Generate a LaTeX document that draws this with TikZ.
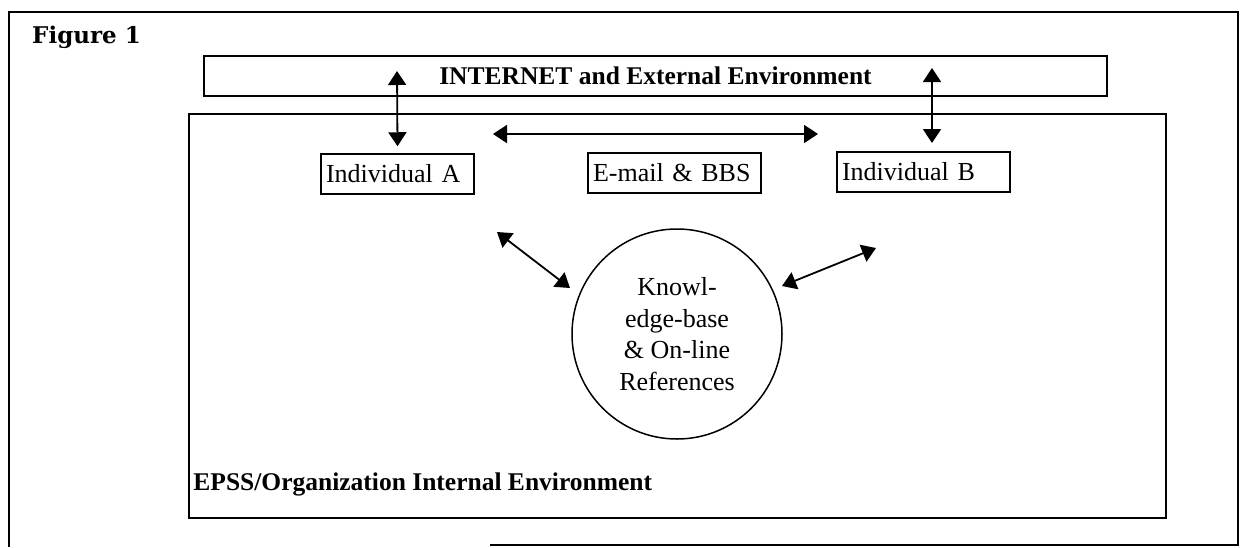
\documentclass[tikz,border=0pt]{standalone}
\usepackage{fontspec}
\setmainfont{Liberation Serif}
\newfontfamily\slabfont{DejaVu Serif}
\usetikzlibrary{positioning, arrows.meta, shapes.geometric}

\begin{document}
\begin{tikzpicture}[
    x=1pt, y=-1pt,
    box/.style={draw, rectangle, line width=1.5pt, inner xsep=5pt, inner ysep=0pt, align=left, minimum height=40pt, font=\fontsize{26}{31}\selectfont},
    arr/.style={<->, >={Triangle[length=14pt,width=18pt]}, line width=1.8pt}
]
    \useasboundingbox (0,0) rectangle (1240,547);

    % page frame, open at the bottom left
    \draw[line width=1.2pt] (490,545) -- (1238,545) -- (1238,12) -- (9,12) -- (9,547);
    \node[anchor=base west, inner sep=0pt, font=\slabfont\bfseries\fontsize{23}{27}\selectfont] (fig) at (32,43) {Figure 1};

    \node[box, minimum width=903pt, align=center, font=\bfseries\fontsize{25.5}{30}\selectfont] (net) at (655.5,76) {INTERNET and External Environment};
    \node[draw, line width=1.5pt, minimum width=977pt, minimum height=404pt, inner sep=0pt] (internal) at (677.5,316) {};
    \node[anchor=base west, inner sep=0pt, font=\bfseries\fontsize{25.5}{30}\selectfont] (epss) at ([xshift=5pt, yshift=28pt]internal.south west) {EPSS/Organization Internal Environment};

    \node[box, text width=143pt] (indA) at (397.5,174) {Individual A};
    \node[box, text width=163pt] (mail) at (674.5,173) {E-mail \& BBS};
    \node[box, text width=163pt] (indB) at (923.5,172) {Individual B};
    \node[circle, draw, line width=1.5pt, minimum size=210pt, inner sep=0pt, align=center, font=\fontsize{26}{31.7}\selectfont] (kb) at (677,334) {Knowl-\\edge-base\\\& On-line\\References};

    % free ends of the connectors
    \coordinate (upA) at (397,71);
    \coordinate (upB) at (932,68);
    \coordinate (downB) at (932,143);
    \coordinate (mailL) at (493,134);
    \coordinate (mailR) at (818,134);
    \coordinate (kbA) at (497,232);
    \coordinate (kbAin) at (570,288);
    \coordinate (kbB) at (876,248);
    \coordinate (kbBin) at (782,286);

    \draw[arr] (upA) -- ([yshift=7pt]indA.north);
    \draw[arr] (upB) -- (downB);
    \draw[arr] (mailL) -- (mailR);
    \draw[arr] (kbA) -- (kbAin);
    \draw[arr] (kbBin) -- (kbB);
\end{tikzpicture}
\end{document}
